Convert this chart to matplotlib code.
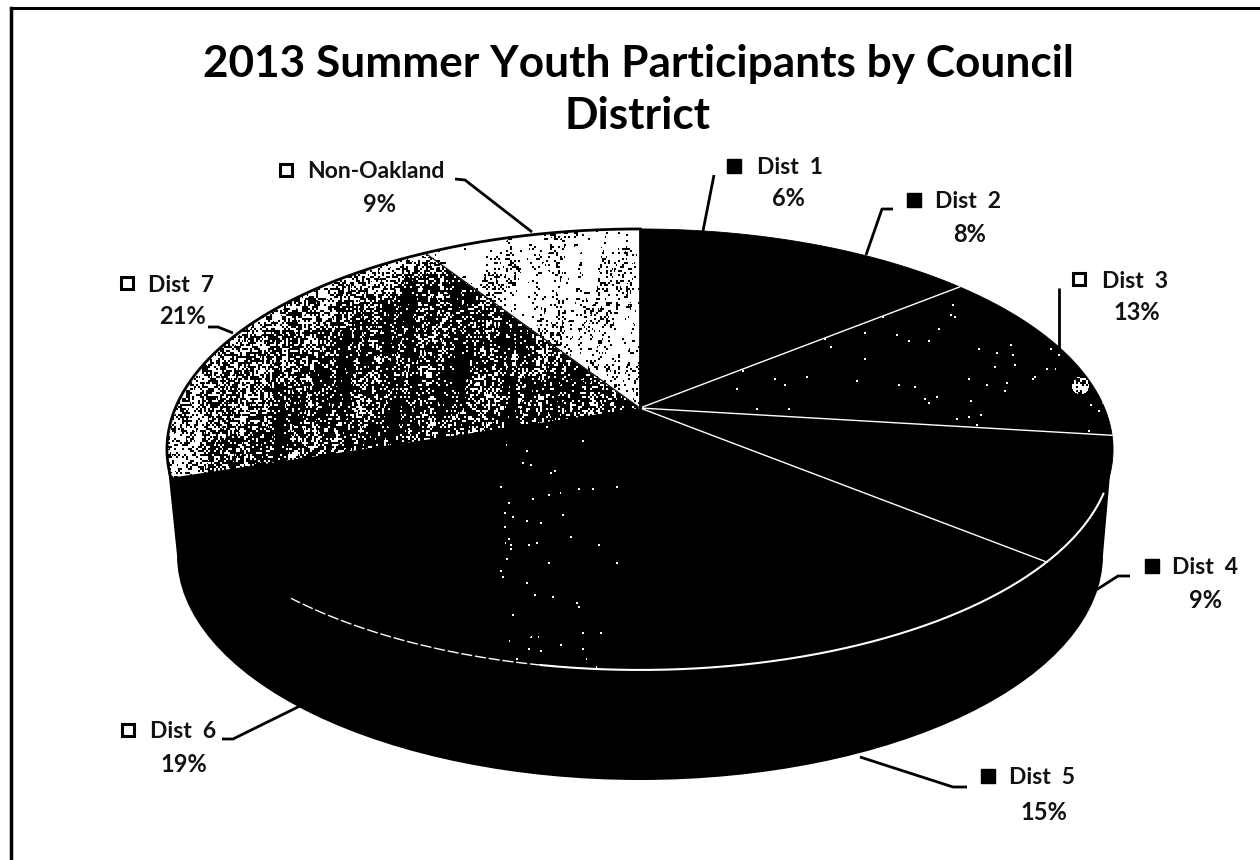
import numpy as np
import matplotlib
matplotlib.use("Agg")
import matplotlib.pyplot as plt
from matplotlib.patches import Polygon, Ellipse

title = "2013 Summer Youth Participants by Council\nDistrict"
districts = ["Dist  1", "Dist  2", "Dist  3", "Dist  4", "Dist  5", "Dist  6", "Dist  7", "Non-Oakland"]
shares = [6, 8, 13, 9, 15, 19, 21, 9]
key_filled = [True, True, False, True, True, False, False, False]

# where the labels sit: key x, name x, name y, percent x, percent y
label_pos = [(734, 757, 168, 788, 198), (914, 935, 202, 970, 234), (1079, 1102, 281, 1137, 312),
             (1152, 1172, 568, 1205, 600), (988, 1009, 778, 1044, 813), (128, 150, 732, 184, 765),
             (127, 148, 285, 182, 316), (286, 307, 172, 379, 205)]
leaders = [[(703, 231), (714, 175)], [(866, 255), (882, 209), (893, 209)],
           [(1059, 348), (1059, 288)], [(1093, 592), (1118, 576), (1130, 576)],
           [(860, 757), (953, 787), (967, 787)], [(302, 705), (233, 739), (222, 739)],
           [(233, 333), (218, 327), (208, 327)], [(532, 232), (465, 180), (455, 179)]]

# top face is a circle seen in perspective
CX, CY = 640, 408
A, B, K = 464.6, 212.7, 0.188


def rim(theta):
    c, s = np.cos(theta), np.sin(theta)
    return CX + A * s / (1 + K * c), CY - B * c / (1 + K * c)


def wedge(p0, p1):
    t = np.linspace(p0, p1, 120) * 2 * np.pi / 100
    x, y = rim(t)
    return np.vstack([[CX, CY], np.column_stack([x, y])])


cum = np.concatenate([[0], np.cumsum(shares)])

# speckle texture, not data
yy, xx = np.mgrid[0:860, 0:1260]
h = np.sin((xx // 2) * 12.9898 + (yy // 2) * 78.233) * 43758.5453
h = h - np.floor(h)
low = (np.sin(xx * 0.11 + yy * 0.013) + np.sin(xx * 0.27 - yy * 0.021 + 1.3)
       + np.sin(xx * 0.053 + yy * 0.06 + 2.1) + np.sin(xx * 0.6 + yy * 0.09)) / 4
# how far out on the disc a pixel is, 1 at the rim
v = (CY - yy) / B
c_ = v / (1 - K * v)
s_ = (xx - CX) / A * (1 + K * c_)
r = np.sqrt(c_ ** 2 + s_ ** 2)
outer = np.clip((r - 0.72) / 0.28, 0, 1)


def speckle(ax, poly, prob, color):
    img = np.zeros((860, 1260, 4))
    img[..., :3] = matplotlib.colors.to_rgb(color)
    img[..., 3] = h < prob
    im = ax.imshow(img, extent=(0, 1260, 860, 0), interpolation="nearest", zorder=3)
    im.set_clip_path(Polygon(poly, transform=ax.transData))


fig = plt.figure(figsize=(12.6, 8.6), dpi=100)
ax = fig.add_axes([0, 0, 1, 1])

# side wall
ax.add_patch(Ellipse((640, 555), 926, 450, fc="black", ec="none", zorder=1))
ax.add_patch(Polygon([(168, 468), (1113, 440), (1103, 555), (177, 555)], fc="black", ec="none", zorder=1))

# top face
for i in range(len(shares)):
    fc = "white" if districts[i] == "Non-Oakland" else "black"
    ax.add_patch(Polygon(wedge(cum[i], cum[i + 1]), fc=fc, ec=fc, lw=0.6, zorder=2))

speckle(ax, wedge(cum[6], cum[7]), 0.22 + 0.32 * low + 0.5 * outer ** 2, "white")
speckle(ax, wedge(cum[7], cum[8]), np.clip(0.14 + 0.32 * low - 0.12 * outer, 0.01, 1), "black")
speckle(ax, wedge(cum[2], cum[3]),
        0.005 + 0.02 * low * (low > 0) * outer + 0.6 * ((xx - 1080) ** 2 + (yy - 385) ** 2 < 80), "white")
speckle(ax, wedge(cum[4], cum[6]), 0.007 * ((xx > 495) & (xx < 620) & (yy > 425)) * (1 + low), "white")

# white seams
for i in [2, 3, 4]:
    x, y = rim(np.array([cum[i]]) * 2 * np.pi / 100)
    ax.plot([CX, x[0]], [CY, y[0]], color="white", lw=1.0, zorder=4)
t = np.linspace(112, 190, 150) * np.pi / 180
ax.plot(*rim(t), color="white", lw=1.5, zorder=4)
t = np.linspace(190, 220, 60) * np.pi / 180
ax.plot(*rim(t), color="white", lw=1.0, ls=(0, (8, 2)), zorder=4)

# dark rim and seam on the light part
t = np.linspace(250, 360, 200) * np.pi / 180
ax.plot(*rim(t), color="black", lw=2.0, zorder=4)
x, y = rim(np.array([cum[7]]) * 2 * np.pi / 100)
ax.plot([CX, x[0]], [CY, y[0]], color="black", lw=0.8, zorder=4)
ax.plot([CX, CX], [229, 408], color="black", lw=2, zorder=4)

# labels
for i, name in enumerate(districts):
    kx, nx, ny, px, py = label_pos[i]
    pts = np.array(leaders[i])
    ax.plot(pts[:, 0], pts[:, 1], color="black", lw=2.0, zorder=5, solid_capstyle="butt")
    ax.plot(kx, ny - 2, marker="s", ms=10.5 if key_filled[i] else 8, mfc="black" if key_filled[i] else "white",
            mec="black", mew=1 if key_filled[i] else 2.2, zorder=5)
    ax.text(nx, ny, name, family="Lato", weight="bold", fontsize=16.5, ha="left", va="center", color="#111111")
    ax.text(px, py, f"{shares[i]}%", family="Lato", weight="bold", fontsize=17, ha="center", va="center",
            color="#111111")

ax.text(638, 90, title, family="Lato", weight="bold", fontsize=31.8, ha="center", va="center",
        linespacing=1.36, color="black")

# scanned frame
ax.plot([11, 11], [8, 858], color="black", lw=2.5)
ax.plot([11, 1260], [8, 8], color="black", lw=2.2)

ax.set_xlim(0, 1260)
ax.set_ylim(860, 0)
ax.axis("off")
fig.savefig("out.png", dpi=100, facecolor="white")
